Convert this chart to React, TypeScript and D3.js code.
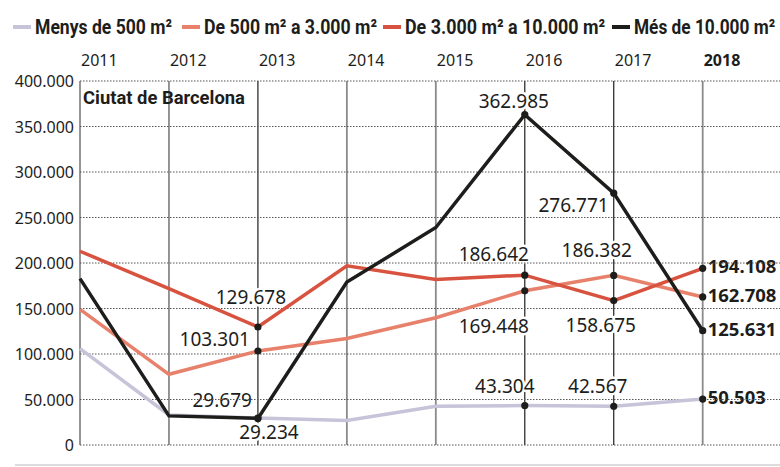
import React, { useLayoutEffect, useRef } from 'react'
import * as d3 from 'd3'

// superficie comercial per franja (Ciutat de Barcelona)
const years = [2011, 2012, 2013, 2014, 2015, 2016, 2017, 2018]
const menys500 = [106000, 33000, 29679, 27000, 42500, 43304, 42567, 50503]
const de500a3000 = [149000, 77700, 103301, 117000, 139800, 169448, 186382, 162708]
const de3000a10000 = [212900, 171900, 129678, 197000, 182000, 186642, 158675, 194108]
const mes10000 = [182800, 32000, 29234, 179000, 239000, 362985, 276771, 125631]
const yTicks = [0, 50000, 100000, 150000, 200000, 250000, 300000, 350000, 400000]

const series = [
  { key: 'menys', name: 'Menys de 500 m²', values: menys500, color: '#c7c3d9' },
  { key: 'de500', name: 'De 500 m² a 3.000 m²', values: de500a3000, color: '#e8816b' },
  { key: 'de3000', name: 'De 3.000 m² a 10.000 m²', values: de3000a10000, color: '#d8533f' },
  { key: 'mes', name: 'Més de 10.000 m²', values: mes10000, color: '#1d1d1b' },
]

const markedYears = [2013, 2016, 2017, 2018]
const annotatedYears = [2013, 2016, 2017]

// where each value label sits relative to its dot
const labels = [
  { key: 'de3000', year: 2013, dx: -7, dy: -23, anchor: 'middle' },
  { key: 'de500', year: 2013, dx: -8, dy: -5, anchor: 'end' },
  { key: 'menys', year: 2013, dx: -6, dy: -11, anchor: 'end' },
  { key: 'mes', year: 2013, dx: 11, dy: 21, anchor: 'middle' },
  { key: 'mes', year: 2016, dx: -11, dy: -7, anchor: 'middle' },
  { key: 'de3000', year: 2016, dx: -31, dy: -14, anchor: 'middle' },
  { key: 'de500', year: 2016, dx: -31, dy: 42, anchor: 'middle' },
  { key: 'menys', year: 2016, dx: -20, dy: -13, anchor: 'middle' },
  { key: 'mes', year: 2017, dx: -5, dy: 19, anchor: 'end' },
  { key: 'de500', year: 2017, dx: -17, dy: -18, anchor: 'middle' },
  { key: 'de3000', year: 2017, dx: -13, dy: 31, anchor: 'middle' },
  { key: 'menys', year: 2017, dx: -16, dy: -13, anchor: 'middle' },
  { key: 'de3000', year: 2018, dx: 5, dy: 5, anchor: 'start' },
  { key: 'de500', year: 2018, dx: 5, dy: 5, anchor: 'start' },
  { key: 'mes', year: 2018, dx: 5, dy: 5, anchor: 'start' },
  { key: 'menys', year: 2018, dx: 5, dy: 5, anchor: 'start' },
]

// legend layout: swatch start and text width
const legendX = [13, 182, 383, 612]
const legendW = [137, 173, 200, 141]

const locale = d3.formatLocale({ decimal: ',', thousands: '.', grouping: [3], currency: ['', '€'] })
const fmt = locale.format(',d')

const numFont = '"Noto Sans", sans-serif'
const condFont = 'Roboto, "Noto Sans", sans-serif'

export default function App() {
  const svgRef = useRef<SVGSVGElement>(null)
  const width = 780
  const height = 467
  const x = d3.scalePoint<number>().domain(years).range([80, 702.7])
  const y = d3.scaleLinear().domain([0, 400000]).range([445, 81])
  const right = 780

  const line = d3.line<number>()
    .x((d, i) => x(years[i]) as number)
    .y(d => y(d))

  const byKey = (k: string) => series.find(s => s.key === k)!

  // squeeze the bold legend / title text to a condensed width
  useLayoutEffect(() => {
    d3.select(svgRef.current).selectAll<SVGTextElement, unknown>('text.cond').each(function () {
      const el = d3.select(this)
      const target = +el.attr('data-w')
      const w = this.getComputedTextLength()
      const k = w > 0 ? target / w : 1
      el.attr('transform', `translate(${el.attr('data-x')}, ${el.attr('data-y')}) scale(${k}, 1)`)
    })
  }, [])

  return (
    <svg ref={svgRef} width={width} height={height} style={{ display: 'block', position: 'absolute', left: 0, top: 0 }}>
      <rect width={width} height={height} fill="#fff" />

      {/* legend */}
      {series.map((s, i) => (
        <g key={s.key}>
          <line x1={legendX[i]} x2={legendX[i] + 18} y1={27} y2={27} stroke={s.color} strokeWidth={4} />
          <text className="cond" data-x={legendX[i] + 22} data-y={34} data-w={legendW[i]}
            transform={`translate(${legendX[i] + 22}, 34) scale(0.8, 1)`}
            fontFamily={condFont} fontWeight="bold" fontSize={21} fill="#1d1d1b">
            {s.name}
          </text>
        </g>
      ))}

      {/* year labels */}
      {years.map(yr => (
        <text key={yr} x={(x(yr) as number) + 1} y={66} fontFamily={numFont} fontSize={16}
          fontWeight={yr === 2018 ? 'bold' : 'normal'} fill="#1d1d1b">
          {yr}
        </text>
      ))}

      {/* vertical year lines */}
      {years.map(yr => {
        const ann = annotatedYears.includes(yr)
        return (
          <line key={yr} x1={x(yr)} x2={x(yr)} y1={y(400000)} y2={y(0)}
            stroke={ann ? '#1d1d1b' : '#8a8a8a'} strokeWidth={ann ? 1.2 : 1.8} />
        )
      })}

      {/* value labels (white halo cuts the annotation lines) */}
      {labels.map((l, i) => {
        const s = byKey(l.key)
        const v = s.values[years.indexOf(l.year)]
        const bold = l.year === 2018
        return (
          <text key={i} x={(x(l.year) as number) + l.dx} y={y(v) + l.dy} textAnchor={l.anchor}
            fontFamily={numFont} fontSize={bold ? 18.5 : 19} fontWeight={bold ? 'bold' : 'normal'} fill="#1d1d1b"
            stroke="#fff" strokeWidth={5} paintOrder="stroke" strokeLinejoin="round">
            {fmt(v)}
          </text>
        )
      })}

      {/* horizontal grid + y labels */}
      {yTicks.map(t => (
        <g key={t}>
          <line x1={80} x2={right} y1={y(t)} y2={y(t)} stroke="#555" strokeWidth={1} strokeDasharray="1.5 1.5" />
          <text x={74} y={y(t) + 6} textAnchor="end" fontFamily={numFont} fontSize={16} fill="#1d1d1b">
            {t === 0 ? '0' : fmt(t)}
          </text>
        </g>
      ))}

      <text className="cond" data-x={83} data-y={104} data-w={162}
        transform="translate(83, 104) scale(0.85, 1)"
        fontFamily={condFont} fontWeight="bold" fontSize={19} fill="#1d1d1b">
        Ciutat de Barcelona
      </text>

      {/* series */}
      {series.map(s => (
        <path key={s.key} d={line(s.values) as string} fill="none" stroke={s.color} strokeWidth={3.5}
          strokeLinejoin="miter" />
      ))}

      {/* dots */}
      {series.map(s =>
        markedYears.map(yr => (
          <circle key={s.key + yr} cx={x(yr)} cy={y(s.values[years.indexOf(yr)])} r={3.6} fill="#1d1d1b" />
        ))
      )}

      <line x1={15} x2={780} y1={465} y2={465} stroke="#dcdcdc" strokeWidth={2} />
    </svg>
  )
}
